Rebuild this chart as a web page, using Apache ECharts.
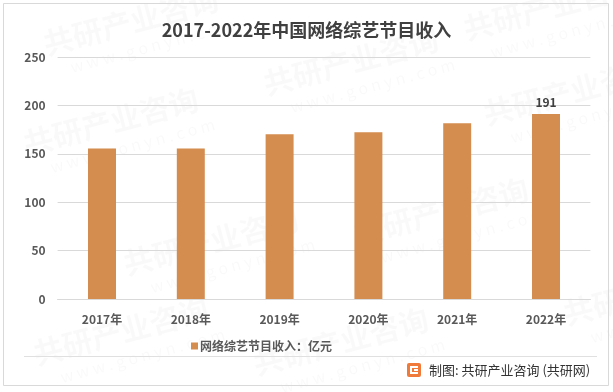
<!DOCTYPE html>
<html>
<head>
<meta charset="utf-8">
<script src="https://cdn.jsdelivr.net/npm/echarts@6/dist/echarts.min.js"></script>
<style>
html,body{margin:0;padding:0;background:#fff;}
#chart{width:613px;height:392px;}
</style>
</head>
<body>
<div id="chart"></div>
<script>
var titleText = '2017-2022年中国网络综艺节目收入';
var categories = ['2017年', '2018年', '2019年', '2020年', '2021年', '2022年'];
var seriesName = '网络综艺节目收入：亿元';
var values = [155.6, 155.6, 170.2, 172.2, 181.6, 191];
var yTicks = [0, 50, 100, 150, 200, 250];
var footerText = '制图: 共研产业咨询 (共研网)';
var watermarkMain = '共研产业咨询';
var watermarkSub = 'w w w . g o n y n . c o m';

var font = '"Microsoft YaHei", "Noto Sans CJK SC", sans-serif';
var chart = echarts.init(document.getElementById('chart'));

var wm = [];
var wmPos = [[20, 130], [260, 70], [480, 100], [120, 250], [350, 220], [560, 300], [30, 340], [250, 350], [460, 15], [40, 30]];
wmPos.forEach(function (p) {
  wm.push({
    type: 'group', x: p[0], y: p[1], rotation: 0.26, silent: true, z: -1,
    children: [
      {type: 'text', style: {text: watermarkMain, x: 0, y: 0, font: 'bold 30px ' + font, fill: 'rgba(0,0,0,0.025)'}},
      {type: 'text', style: {text: watermarkSub, x: 20, y: 36, font: '16px ' + font, fill: 'rgba(0,0,0,0.025)'}}
    ]
  });
});

var data = values.map(function (v, i) {
  return {
    value: v,
    label: {show: i === values.length - 1}
  };
});

chart.setOption({
  backgroundColor: '#ffffff',
  animation: false,
  title: {
    text: titleText,
    left: 'center',
    top: 16,
    textStyle: {fontFamily: font, fontSize: 18, fontWeight: 'bold', color: '#404040'}
  },
  grid: {left: 57.6, right: 22.6, top: 57, bottom: 93},
  legend: {
    data: [seriesName],
    left: 186,
    top: 335,
    itemWidth: 7,
    itemHeight: 7,
    itemGap: 4,
    icon: 'rect',
    textStyle: {fontFamily: font, fontSize: 12, fontWeight: 'bold', color: '#595959', padding: [0, 0, 0, -3]}
  },
  xAxis: {
    type: 'category',
    data: categories,
    axisLine: {show: true, lineStyle: {color: '#d9d9d9', width: 1}},
    axisTick: {show: false},
    axisLabel: {fontFamily: font, fontSize: 12, fontWeight: 'bold', color: '#595959', margin: 14}
  },
  yAxis: {
    type: 'value',
    min: yTicks[0],
    max: yTicks[yTicks.length - 1],
    interval: yTicks[1] - yTicks[0],
    axisLine: {show: false},
    axisTick: {show: false},
    splitLine: {lineStyle: {color: '#d9d9d9', width: 1}},
    axisLabel: {fontFamily: font, fontSize: 12, fontWeight: 'bold', color: '#595959', margin: 12}
  },
  series: [{
    name: seriesName,
    type: 'bar',
    data: data,
    barWidth: '31.5%',
    itemStyle: {color: '#D48C4F'},
    label: {
      position: 'top',
      distance: 6,
      fontFamily: font,
      fontSize: 12,
      fontWeight: 'bold',
      color: '#404040'
    }
  }],
  graphic: wm.concat([
    {type: 'rect', shape: {x: 3.5, y: 3.5, width: 605, height: 382}, style: {fill: 'none', stroke: '#d9d9d9', lineWidth: 1}, silent: true},
    {type: 'line', shape: {x1: 24, y1: 356.5, x2: 597, y2: 356.5}, style: {stroke: '#e0e0e0', lineWidth: 1}, silent: true},
    {type: 'group', x: 407, y: 363, children: [
      {type: 'rect', shape: {x: 0, y: 0, width: 14, height: 14, r: 2}, style: {fill: '#F07A3A'}},
      {type: 'rect', shape: {x: 3, y: 3, width: 8, height: 2}, style: {fill: '#fff'}},
      {type: 'rect', shape: {x: 3, y: 3, width: 2, height: 8}, style: {fill: '#fff'}},
      {type: 'rect', shape: {x: 3, y: 9, width: 8, height: 2}, style: {fill: '#fff'}},
      {type: 'rect', shape: {x: 7, y: 6, width: 4, height: 2}, style: {fill: '#fff'}}
    ]},
    {type: 'text', x: 429, y: 370, style: {text: footerText, font: '13px ' + font, fill: '#333333', verticalAlign: 'middle'}}
  ])
});
</script>
</body>
</html>
